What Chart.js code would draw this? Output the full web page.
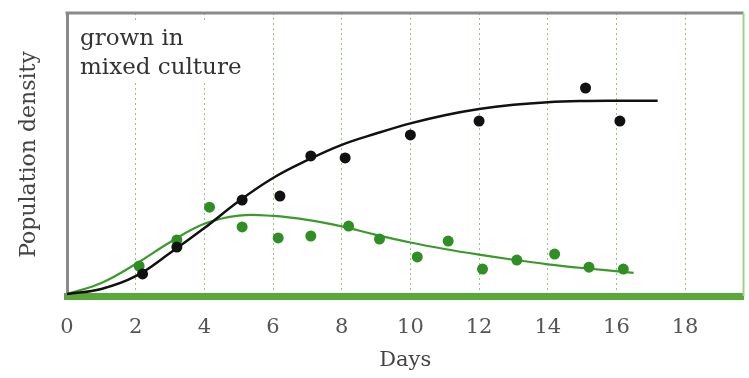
<!DOCTYPE html>
<html>
<head>
<meta charset="utf-8">
<script src="https://cdn.jsdelivr.net/npm/chart.js@4/dist/chart.umd.min.js"></script>
<style>
  html, body { margin: 0; padding: 0; background: #fff; }
  #wrap { width: 749px; height: 378px; }
</style>
</head>
<body>
<div id="wrap"><canvas id="c" width="749" height="378"></canvas></div>
<script>
// Tick labels on the Days axis
const dayTicks = [0, 2, 4, 6, 8, 10, 12, 14, 16, 18];

// Measured population density (relative units), species shown in black
const blackDays   = [2.2, 3.2, 5.1, 6.2, 7.1, 8.1, 10.0, 12.0, 15.1, 16.1];
const blackValues = [7.8, 17.3, 33.9, 35.3, 49.5, 48.8, 56.9, 61.8, 73.5, 61.8];

// Measured population density, species shown in green
const greenDays   = [2.1, 3.2, 4.15, 5.1, 6.15, 7.1, 8.2, 9.1, 10.2, 11.1, 12.1, 13.1, 14.2, 15.2, 16.2];
const greenValues = [10.6, 19.8, 31.4, 24.4, 20.5, 21.2, 24.7, 20.1, 13.8, 19.4, 9.5, 12.7, 14.8, 10.2, 9.5];

// Fitted growth curves
const blackFitDays   = [0, 1, 2, 3, 4, 5, 6, 7, 8, 9, 10, 11, 12, 13, 14, 15, 16, 17.2];
const blackFitValues = [0.7, 2.5, 7.0, 15.2, 24.0, 33.5, 41.7, 48.0, 53.4, 57.4, 61.0, 63.9, 66.1, 67.6, 68.5, 68.9, 69.0, 69.0];

const greenFitDays   = [0, 1, 2, 3, 4, 5, 6, 7, 8, 9, 10, 11, 12, 13, 14, 15, 16.5];
const greenFitValues = [0.7, 4.6, 11.3, 19.0, 25.5, 28.4, 28.3, 26.9, 24.6, 21.6, 18.9, 16.6, 14.6, 12.8, 11.2, 9.9, 8.2];

const annotationLines = ['grown in', 'mixed culture'];

const toXY = (xs, ys) => xs.map((x, i) => ({ x: x, y: ys[i] }));

const serif = "'DejaVu Serif', 'Liberation Serif', serif";

// Frame on top/right plus the boxed label in the upper-left corner
const framePlugin = {
  id: 'frame',
  beforeDatasetsDraw(chart) {
    const { ctx, chartArea: a } = chart;
    ctx.save();
    ctx.fillStyle = '#ffffff';
    ctx.fillRect(a.left + 4, a.top + 9, 190, 61);
    ctx.fillStyle = '#333333';
    ctx.font = "23px " + serif;
    ctx.textBaseline = 'alphabetic';
    ctx.fillText(annotationLines[0], a.left + 13, a.top + 32);
    ctx.fillText(annotationLines[1], a.left + 13, a.top + 61);
    ctx.restore();
  },
  afterDraw(chart) {
    const { ctx, chartArea: a } = chart;
    ctx.save();
    ctx.strokeStyle = '#8a8a8a';
    ctx.lineWidth = 3;
    ctx.beginPath();
    ctx.moveTo(a.left - 1.5, a.top);
    ctx.lineTo(a.right, a.top);
    ctx.stroke();
    ctx.strokeStyle = '#9fd486';
    ctx.lineWidth = 2;
    ctx.beginPath();
    ctx.moveTo(a.right, a.top);
    ctx.lineTo(a.right, a.bottom);
    ctx.stroke();
    ctx.restore();
  }
};

new Chart(document.getElementById('c'), {
  type: 'scatter',
  data: {
    datasets: [
      {
        label: 'black points',
        data: toXY(blackDays, blackValues),
        pointRadius: 5.5,
        pointHoverRadius: 5.5,
        pointBackgroundColor: '#111111',
        pointBorderWidth: 0,
        showLine: false
      },
      {
        label: 'green points',
        data: toXY(greenDays, greenValues),
        pointRadius: 5.5,
        pointHoverRadius: 5.5,
        pointBackgroundColor: '#2f8f24',
        pointBorderWidth: 0,
        showLine: false
      },
      {
        label: 'black fit',
        data: toXY(blackFitDays, blackFitValues),
        showLine: true,
        borderColor: '#111111',
        borderWidth: 2.5,
        pointRadius: 0,
        tension: 0.4
      },
      {
        label: 'green fit',
        data: toXY(greenFitDays, greenFitValues),
        showLine: true,
        borderColor: '#3c9a2c',
        borderWidth: 2.2,
        pointRadius: 0,
        tension: 0.4
      }
    ]
  },
  options: {
    responsive: false,
    animation: false,
    events: [],
    layout: { padding: { left: 0, top: 13, right: 4, bottom: 0 } },
    plugins: {
      legend: { display: false },
      tooltip: { enabled: false }
    },
    scales: {
      x: {
        type: 'linear',
        min: 0,
        max: 19.7,
        afterBuildTicks(scale) {
          scale.ticks = dayTicks.map(v => ({ value: v }));
        },
        afterFit(scale) { scale.height = 82; },
        grid: {
          drawTicks: false,
          lineWidth: 1,
          color: (c) => (c.tick && c.tick.value === 0) ? 'rgba(0,0,0,0)' : 'rgba(120,170,100,0.75)'
        },
        border: { display: true, color: '#5aa83a', width: 7, dash: [2, 3] },
        ticks: {
          padding: 19,
          color: '#555555',
          font: { family: serif, size: 21 }
        },
        title: {
          display: true,
          text: 'Days',
          color: '#444444',
          font: { family: serif, size: 21 },
          padding: { top: 0, bottom: 5 }
        }
      },
      y: {
        min: 0,
        max: 100,
        afterFit(scale) { scale.width = 67; },
        grid: { display: false, drawTicks: false },
        border: { display: true, color: '#8a8a8a', width: 3 },
        ticks: { display: false },
        title: {
          display: true,
          text: 'Population density',
          color: '#444444',
          font: { family: serif, size: 22 },
          padding: { top: 16, bottom: 0 }
        }
      }
    }
  },
  plugins: [framePlugin]
});
</script>
</body>
</html>
